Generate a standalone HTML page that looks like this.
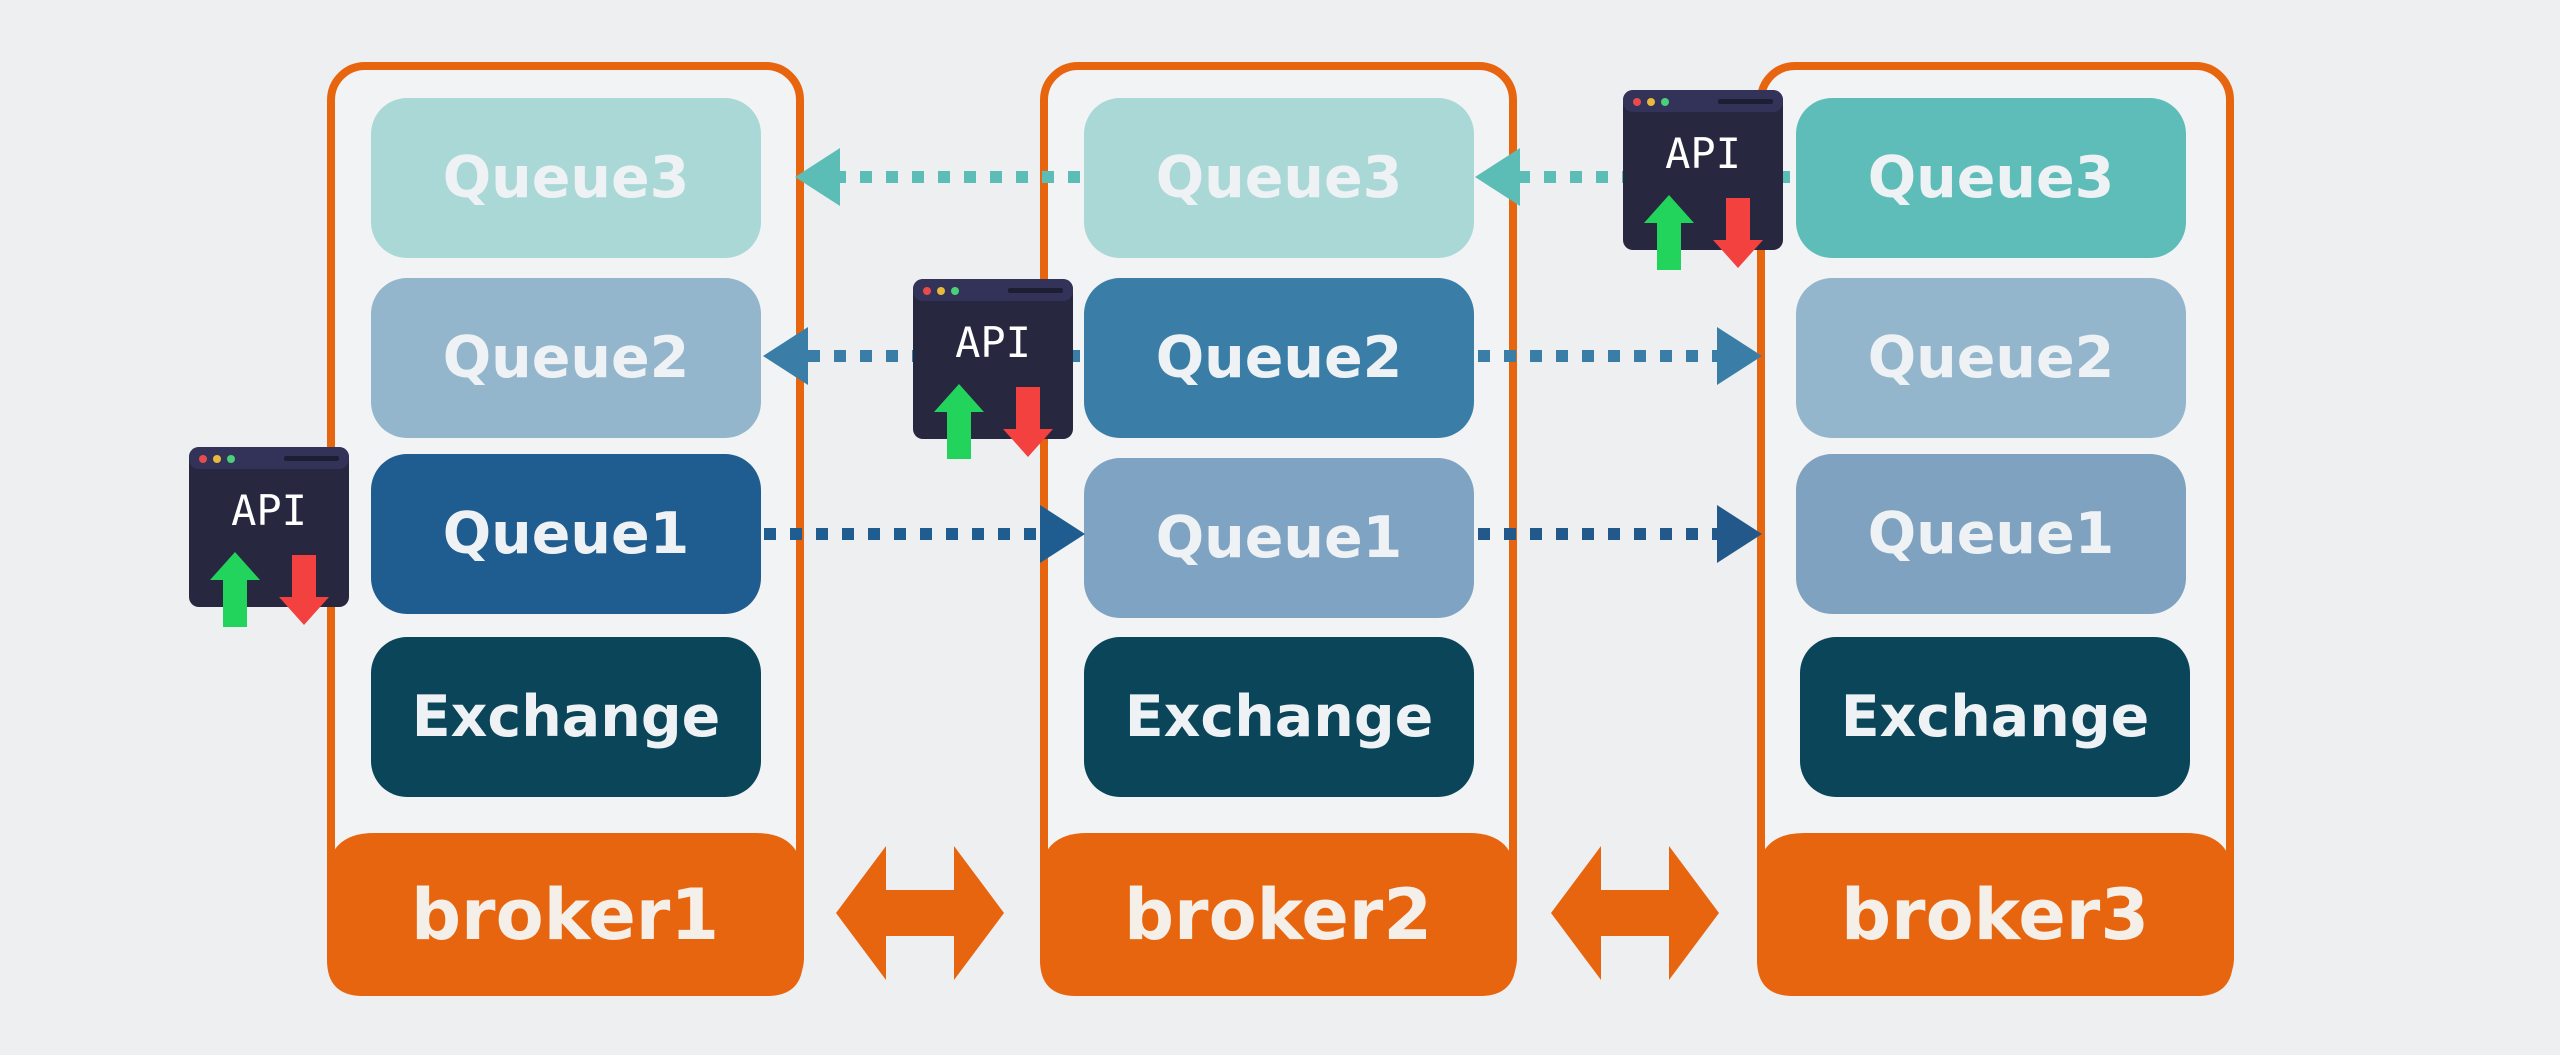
<!DOCTYPE html>
<html><head><meta charset="utf-8"><style>
html,body{margin:0;padding:0;background:#eeeff1;}
svg{display:block}
.q{font-family:"DejaVu Sans","Liberation Sans",sans-serif;font-weight:bold;font-size:57px;fill:#eef2f4;text-anchor:middle;dominant-baseline:central;}
.b{font-family:"DejaVu Sans","Liberation Sans",sans-serif;font-weight:bold;font-size:70px;fill:#f4efe8;text-anchor:middle;dominant-baseline:central;}
.api{font-family:"DejaVu Sans Mono","Liberation Mono",monospace;font-size:42px;fill:#fff;text-anchor:middle;}
</style></head><body>
<svg width="2560" height="1055" viewBox="0 0 2560 1055" xmlns="http://www.w3.org/2000/svg">
<defs>
<g id="api">
<rect x="0" y="0" width="160" height="160" rx="10" fill="#27273f"/>
<rect x="0" y="0" width="160" height="22" rx="10" fill="#33335a"/>
<circle cx="14" cy="12" r="4" fill="#e94b4b"/><circle cx="28" cy="12" r="4" fill="#e8b93c"/><circle cx="42" cy="12" r="4" fill="#4bd07a"/>
<rect x="95" y="9" width="55" height="5" rx="2" fill="#1d1d33"/>
<text class="api" x="80" y="78">API</text>
<polygon points="46,105 71,133 58,133 58,180 34,180 34,133 21,133" fill="#22d35c"/>
<polygon points="103,108 127,108 127,150 140,150 115,178 90,150 103,150" fill="#f2413f"/>
</g>
</defs>

<!-- broker1 -->
<rect x="331" y="66" width="469" height="926" rx="34" fill="#f2f3f5" stroke="#e8650f" stroke-width="8"/>
<path d="M327,880 q0,-47 47,-47 h382 q47,0 47,47 v80 q0,36 -36,36 h-404 q-36,0 -36,-36z" fill="#e8650f"/>
<text class="b" x="565" y="915">broker1</text>
<!-- broker2 -->
<rect x="1044" y="66" width="469" height="926" rx="34" fill="#f2f3f5" stroke="#e8650f" stroke-width="8"/>
<path d="M1040,880 q0,-47 47,-47 h382 q47,0 47,47 v80 q0,36 -36,36 h-404 q-36,0 -36,-36z" fill="#e8650f"/>
<text class="b" x="1278" y="915">broker2</text>
<!-- broker3 -->
<rect x="1761" y="66" width="469" height="926" rx="34" fill="#f2f3f5" stroke="#e8650f" stroke-width="8"/>
<path d="M1757,880 q0,-47 47,-47 h382 q47,0 47,47 v80 q0,36 -36,36 h-404 q-36,0 -36,-36z" fill="#e8650f"/>
<text class="b" x="1995" y="915">broker3</text>

<!-- boxes broker1 -->
<rect x="371" y="98" width="390" height="160" rx="36" fill="#a9d8d6"/><text class="q" x="566" y="178">Queue3</text>
<rect x="371" y="278" width="390" height="160" rx="36" fill="#93b6cc"/><text class="q" x="566" y="358">Queue2</text>
<rect x="371" y="454" width="390" height="160" rx="36" fill="#1f5c8f"/><text class="q" x="566" y="534">Queue1</text>
<rect x="371" y="637" width="390" height="160" rx="36" fill="#0b4559"/><text class="q" x="566" y="717">Exchange</text>
<!-- broker2 -->
<rect x="1084" y="98" width="390" height="160" rx="36" fill="#a9d8d6"/><text class="q" x="1279" y="178">Queue3</text>
<rect x="1084" y="278" width="390" height="160" rx="36" fill="#3a7ea8"/><text class="q" x="1279" y="358">Queue2</text>
<rect x="1084" y="458" width="390" height="160" rx="36" fill="#7fa3c2"/><text class="q" x="1279" y="538">Queue1</text>
<rect x="1084" y="637" width="390" height="160" rx="36" fill="#0b4559"/><text class="q" x="1279" y="717">Exchange</text>
<!-- broker3 -->
<rect x="1796" y="98" width="390" height="160" rx="36" fill="#5fbdb9"/><text class="q" x="1991" y="178">Queue3</text>
<rect x="1796" y="278" width="390" height="160" rx="36" fill="#93b6cc"/><text class="q" x="1991" y="358">Queue2</text>
<rect x="1796" y="454" width="390" height="160" rx="36" fill="#7fa2c0"/><text class="q" x="1991" y="534">Queue1</text>
<rect x="1800" y="637" width="390" height="160" rx="36" fill="#0b4559"/><text class="q" x="1995" y="717">Exchange</text>

<!-- dotted arrows -->
<g stroke-width="12" stroke-dasharray="12,14" fill="none">
<line x1="1080" y1="177" x2="830" y2="177" stroke="#5bbdb6"/>
<line x1="1790" y1="177" x2="1510" y2="177" stroke="#5bbdb6"/>
<line x1="1080" y1="356" x2="800" y2="356" stroke="#3a7ea8"/>
<line x1="1478" y1="356" x2="1725" y2="356" stroke="#3a7ea8"/>
<line x1="764" y1="534" x2="1045" y2="534" stroke="#1f5c8f"/>
<line x1="1478" y1="534" x2="1725" y2="534" stroke="#22598a"/>
</g>
<polygon points="795,177 840,148 840,206" fill="#5bbdb6"/>
<polygon points="1475,177 1520,148 1520,206" fill="#5bbdb6"/>
<polygon points="763,356 808,327 808,385" fill="#3a7ea8"/>
<polygon points="1762,356 1717,327 1717,385" fill="#3a7ea8"/>
<polygon points="1085,534 1040,505 1040,563" fill="#1f5c8f"/>
<polygon points="1762,534 1717,505 1717,563" fill="#22598a"/>

<!-- double arrows -->
<polygon points="836,913 886,846 886,890 954,890 954,846 1004,913 954,980 954,936 886,936 886,980" fill="#e8650f"/>
<polygon points="1551,913 1601,846 1601,890 1669,890 1669,846 1719,913 1669,980 1669,936 1601,936 1601,980" fill="#e8650f"/>

<!-- API icons -->
<use href="#api" x="189" y="447"/>
<use href="#api" x="913" y="279"/>
<use href="#api" x="1623" y="90"/>
</svg>
</body></html>
